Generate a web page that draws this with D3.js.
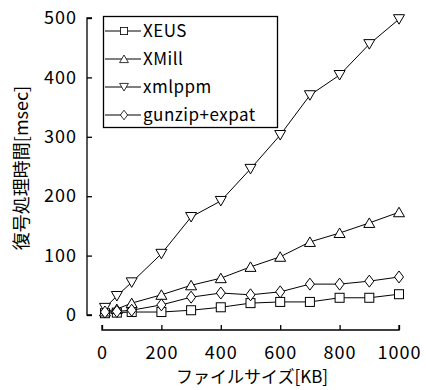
<!DOCTYPE html>
<html>
<head>
<meta charset="utf-8">
<script src="https://cdn.jsdelivr.net/npm/d3@7"></script>
<style>
  body { margin: 0; background: #fff; }
  text { font-family: "Noto Sans CJK JP", "Liberation Sans", sans-serif; fill: #000; }
</style>
</head>
<body>
<div id="chart-area"></div>
<script>
// file sizes (KB)
var sizes = [10, 50, 100, 200, 300, 400, 500, 600, 700, 800, 900, 1000];
var xeus   = [3, 4, 5, 5, 8, 13, 20, 22, 22, 29, 29, 35];
var xmill  = [6, 10, 20, 34, 50, 62, 81, 98, 123, 138, 155, 173];
var xmlppm = [12, 32, 55, 103, 165, 192, 246, 303, 370, 404, 456, 498];
var gunzip = [5, 6, 8, 17, 30, 37, 34, 39, 52, 52, 57, 64];
var seriesNames = ["XEUS", "XMill", "xmlppm", "gunzip+expat"];
var xTicks = [0, 200, 400, 600, 800, 1000];
var yTicks = [0, 100, 200, 300, 400, 500];

var series = [
    { name: seriesNames[0], values: xeus,   shape: "square" },
    { name: seriesNames[1], values: xmill,  shape: "up" },
    { name: seriesNames[2], values: xmlppm, shape: "down" },
    { name: seriesNames[3], values: gunzip, shape: "diamond" }
];

var svg = d3.select("#chart-area")
    .append("svg")
    .attr("width", 426)
    .attr("height", 390);

// X Scale
var x = d3.scaleLinear()
    .domain([0, 1000])
    .range([102, 399]);

// Y Scale
var y = d3.scaleLinear()
    .domain([0, 500])
    .range([315, 18]);

// Y Axis (ticks inward)
var yAxis = svg.append("g")
    .attr("transform", "translate(87,0)")
    .call(d3.axisRight(y).tickValues(yTicks).tickSize(5).tickFormat(d3.format("d")));
yAxis.select(".domain").attr("d", "M5," + y(500) + "H0V" + y(0) + "H5");
yAxis.selectAll("text")
    .attr("x", -10)
    .attr("text-anchor", "end")
    .attr("font-size", "18px")
    .attr("letter-spacing", "1px");

// X Axis (separate, ticks upward)
var xAxis = svg.append("g")
    .attr("transform", "translate(0,330)")
    .call(d3.axisTop(x).tickValues(xTicks).tickSize(5).tickFormat(d3.format("d")));
xAxis.select(".domain").attr("d", "M" + x(0) + ",-5V0H" + x(1000) + "V-5");
xAxis.selectAll("text")
    .attr("y", 29)
    .attr("font-size", "18px")
    .attr("letter-spacing", "1px");

svg.selectAll(".domain, .tick line")
    .attr("stroke", "#000")
    .attr("stroke-width", 1.3);

// Labels
svg.append("text")
    .attr("x", 252)
    .attr("y", 383)
    .attr("font-size", "17px")
    .attr("text-anchor", "middle")
    .text("ファイルサイズ[KB]");

svg.append("text")
    .attr("transform", "translate(28,168) rotate(-90)")
    .attr("font-size", "18px")
    .attr("text-anchor", "middle")
    .text("復号処理時間[msec]");

function marker(sel, shape) {
    if (shape === "square") {
        sel.append("rect").attr("x", -4.5).attr("y", -4.5).attr("width", 9).attr("height", 9);
    } else if (shape === "up") {
        sel.append("path").attr("d", "M0,-5L5.5,4.5L-5.5,4.5Z");
    } else if (shape === "down") {
        sel.append("path").attr("d", "M0,5L5.5,-4.5L-5.5,-4.5Z");
    } else {
        sel.append("path").attr("d", "M0,-6L4.5,0L0,6L-4.5,0Z");
    }
    sel.selectAll("*")
        .attr("fill", "#fff")
        .attr("stroke", "#000")
        .attr("stroke-width", 1);
}

var line = d3.line()
    .x(function(d, i){ return x(sizes[i]); })
    .y(function(d){ return y(d); });

series.forEach(function(s){
    svg.append("path")
        .attr("d", line(s.values))
        .attr("fill", "none")
        .attr("stroke", "#000")
        .attr("stroke-width", 1);
});

series.forEach(function(s){
    s.values.forEach(function(v, i){
        var g = svg.append("g")
            .attr("transform", "translate(" + x(sizes[i]) + "," + y(v) + ")");
        marker(g, s.shape);
    });
});

// Legend
var legend = svg.append("g");
legend.append("rect")
    .attr("x", 103.5)
    .attr("y", 16.5)
    .attr("width", 174)
    .attr("height", 111)
    .attr("fill", "#fff")
    .attr("stroke", "#000")
    .attr("stroke-width", 1.3);

series.forEach(function(s, i){
    var cy = 31 + i * 28;
    legend.append("line")
        .attr("x1", 105).attr("x2", 141)
        .attr("y1", cy).attr("y2", cy)
        .attr("stroke", "#000");
    var g = legend.append("g").attr("transform", "translate(124," + cy + ") scale(0.8)");
    marker(g, s.shape);
    legend.append("text")
        .attr("x", 143)
        .attr("y", cy + 6)
        .attr("font-size", "17px")
        .attr("letter-spacing", "0.5px")
        .text(s.name);
});
</script>
</body>
</html>
